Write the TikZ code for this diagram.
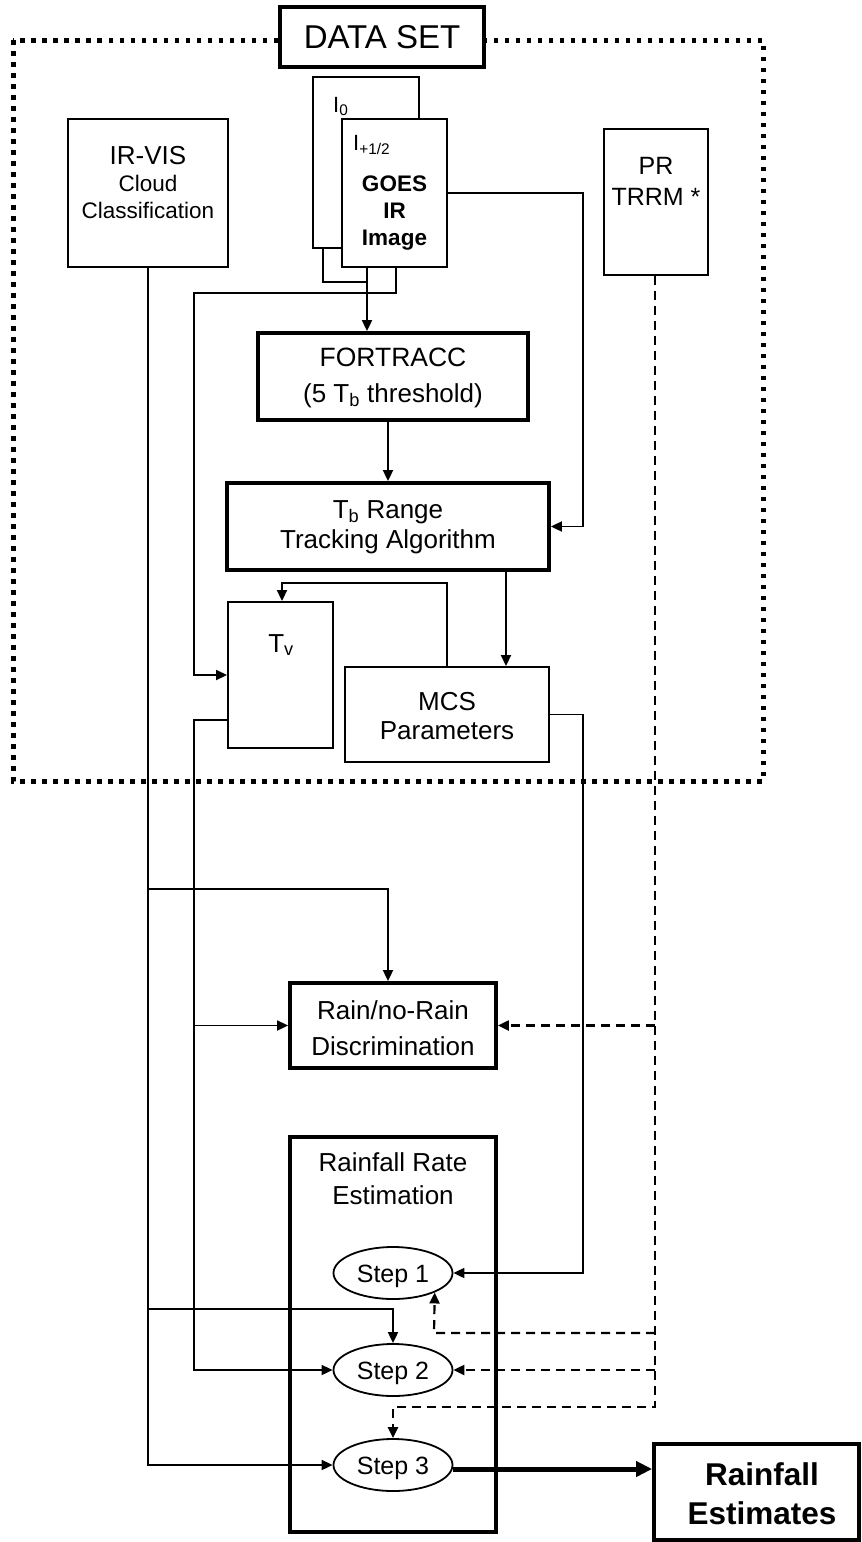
\documentclass[tikz,border=0pt]{standalone}
\usepackage{fontspec}
\setmainfont{Liberation Sans}
\usetikzlibrary{arrows.meta,shapes.geometric}
\newcommand{\fs}[1]{\fontsize{#1}{#1}\selectfont}
\begin{document}
\begin{tikzpicture}[x=1pt,y=-1pt,
  thinbox/.style={draw, rectangle, line width=1.9pt, inner sep=0pt, fill=white},
  thickbox/.style={draw, rectangle, line width=3.8pt, inner sep=0pt, fill=white},
  stepnode/.style={draw, ellipse, line width=1.8pt, inner sep=0pt, fill=white, minimum width=119pt, minimum height=52pt},
  txt/.style={inner sep=0pt, anchor=base},
  wire/.style={line width=1.8pt},
  conn/.style={line width=1.8pt, -{Triangle[length=11pt,width=10pt]}},
  darr/.style={line width=2.2pt, dash pattern=on 9pt off 6pt, -{Triangle[length=11pt,width=10pt]}},
  dotframe/.style={line width=5pt, dash pattern=on 4.5pt off 6.5pt},
  bigarr/.style={line width=5pt, -{Triangle[length=16pt,width=15pt]}}
]
\useasboundingbox (0,0) rectangle (862,1542);

% dotted data-set frame
\coordinate (frA) at (13,40);
\coordinate (frB) at (763,781);
\draw[dotframe] (frA) rectangle (frB);

% boxes
\node[thickbox, minimum width=204pt, minimum height=60pt] (dataset) at (382,37) {\fs{33}DATA SET};
\node[thinbox, minimum width=160pt, minimum height=148pt] (irvis) at (148,193) {};
\node[thinbox, minimum width=106pt, minimum height=171pt] (i0box) at (366,162.5) {};
\node[thinbox, minimum width=105pt, minimum height=148pt] (goes) at (394.5,193) {};
\node[thinbox, minimum width=104pt, minimum height=146pt] (pr) at (656,202) {};
\node[thickbox, minimum width=270pt, minimum height=87pt] (fortracc) at (393,376.5) {};
\node[thickbox, minimum width=322pt, minimum height=87pt] (tbrange) at (388,526.5) {};
\node[thinbox, minimum width=105pt, minimum height=146pt] (tv) at (280.5,675) {};
\node[thinbox, minimum width=204pt, minimum height=95pt] (mcs) at (447,714.5) {};
\node[thickbox, minimum width=206pt, minimum height=85pt] (rain) at (393,1025.5) {};
\node[thickbox, minimum width=206pt, minimum height=395pt] (rate) at (393,1334.5) {};
\node[stepnode] (step1) at (393,1273) {};
\node[stepnode] (step2) at (393,1370) {};
\node[stepnode] (step3) at (393,1465) {};
\node[thickbox, minimum width=205pt, minimum height=96pt] (est) at (756.5,1492) {};

% texts
\node[txt] (t-irvis1) at (148,164.3) {\fs{26}IR-VIS};
\node[txt] (t-irvis2) at (148,191) {\fs{22.5}Cloud};
\node[txt] (t-irvis3) at (148,218) {\fs{22.5}Classification};
\node[txt, anchor=base west] (t-i0) at (333,112) {\fs{22}I\textsubscript{0}};
\node[txt, anchor=base west] (t-i12) at (353,150) {\fs{22}I\textsubscript{+1/2}};
\node[txt] (t-goes1) at (394.5,191) {\fs{22.5}\bfseries GOES};
\node[txt] (t-goes2) at (394.5,218) {\fs{22.5}\bfseries IR};
\node[txt] (t-goes3) at (394.5,245) {\fs{22.5}\bfseries Image};
\node[txt] (t-pr1) at (656,174.5) {\fs{25}PR};
\node[txt] (t-pr2) at (656,205) {\fs{25}TRRM *};
\node[txt] (t-fo1) at (393,366.5) {\fs{26.5}FORTRACC};
\node[txt] (t-fo2) at (393,402) {\fs{26}(5 T\textsubscript{b} threshold)};
\node[txt] (t-tb1) at (388,518) {\fs{26}T\textsubscript{b} Range};
\node[txt] (t-tb2) at (388,548) {\fs{26}Tracking Algorithm};
\node[txt] (t-tv) at (281,652) {\fs{26}T\textsubscript{v}};
\node[txt] (t-mcs1) at (447,710) {\fs{26}MCS};
\node[txt] (t-mcs2) at (447,739) {\fs{26}Parameters};
\node[txt] (t-rain1) at (393,1019) {\fs{26}Rain/no-Rain};
\node[txt] (t-rain2) at (393,1055) {\fs{26}Discrimination};
\node[txt] (t-rate1) at (393,1171) {\fs{26}Rainfall Rate};
\node[txt] (t-rate2) at (393,1204) {\fs{26}Estimation};
\node[txt] (t-s1) at (393,1282) {\fs{25}Step 1};
\node[txt] (t-s2) at (393,1379) {\fs{25}Step 2};
\node[txt] (t-s3) at (393,1474) {\fs{25}Step 3};
\node[txt] (t-est1) at (762,1485) {\fs{31.5}\bfseries Rainfall};
\node[txt] (t-est2) at (762,1524) {\fs{31.5}\bfseries Estimates};

% junction coordinates
\coordinate (jA) at (367,282);
\coordinate (jB) at (396,293);
\coordinate (jC) at (194,293);
\coordinate (jD) at (583,193);
\coordinate (jE) at (447,583);
\coordinate (jF) at (282,583);
\coordinate (jG) at (194,720);
\coordinate (jH) at (148,889);
\coordinate (jI) at (388,889);
\coordinate (jJ) at (148,1309);
\coordinate (jK) at (393,1309);
\coordinate (jL) at (583,714.5);
\coordinate (jM) at (655,1407);
\coordinate (jN) at (393,1407);
\coordinate (jO) at (655,1333);
\coordinate (jP) at (434,1333);

% connectors
\draw[wire] (323,0 |- i0box.south) -- (323,0 |- jA) -- (jA);
\draw[conn] (367,0 |- goes.south) -- (367,0 |- fortracc.north);
\draw[conn] (396,0 |- goes.south) -- (jB) -- (jC) -- (194,0 |- tv.west) -- (tv.west);
\draw[conn] (goes.east) -- (jD) -- (583,0 |- tbrange.east) -- (tbrange.east);
\draw[conn] (388,0 |- fortracc.south) -- (388,0 |- tbrange.north);
\draw[conn] (506,0 |- tbrange.south) -- (506,0 |- mcs.north);
\draw[conn] (mcs.north) -- (jE) -- (jF) -- (282,0 |- tv.north);
\draw[conn] (tv.west |- jG) -- (jG) -- (194,0 |- step2.west) -- (step2.west);
\draw[conn] (194,0 |- rain.west) -- (rain.west);
\draw[conn] (irvis.south) -- (148,0 |- step3.west) -- (step3.west);
\draw[conn] (jH) -- (jI) -- (388,0 |- rain.north);
\draw[conn] (jJ) -- (jK) -- (step2.north);
\draw[conn] (mcs.east) -- (jL) -- (583,0 |- step1.east) -- (step1.east);

% dashed PR connectors
\draw[darr] (655,0 |- pr.south) -- (jM) -- (jN) -- (step3.north);
\draw[darr] (655,0 |- rain.east) -- (rain.east);
\draw[darr] (655,0 |- step2.east) -- (step2.east);
\draw[darr] (jO) -- (jP) -- (step1.-25);

% final thick arrow
\draw[bigarr] ([yshift=-4pt]step3.east) -- (est.west |- 0,1469);
\end{tikzpicture}
\end{document}
